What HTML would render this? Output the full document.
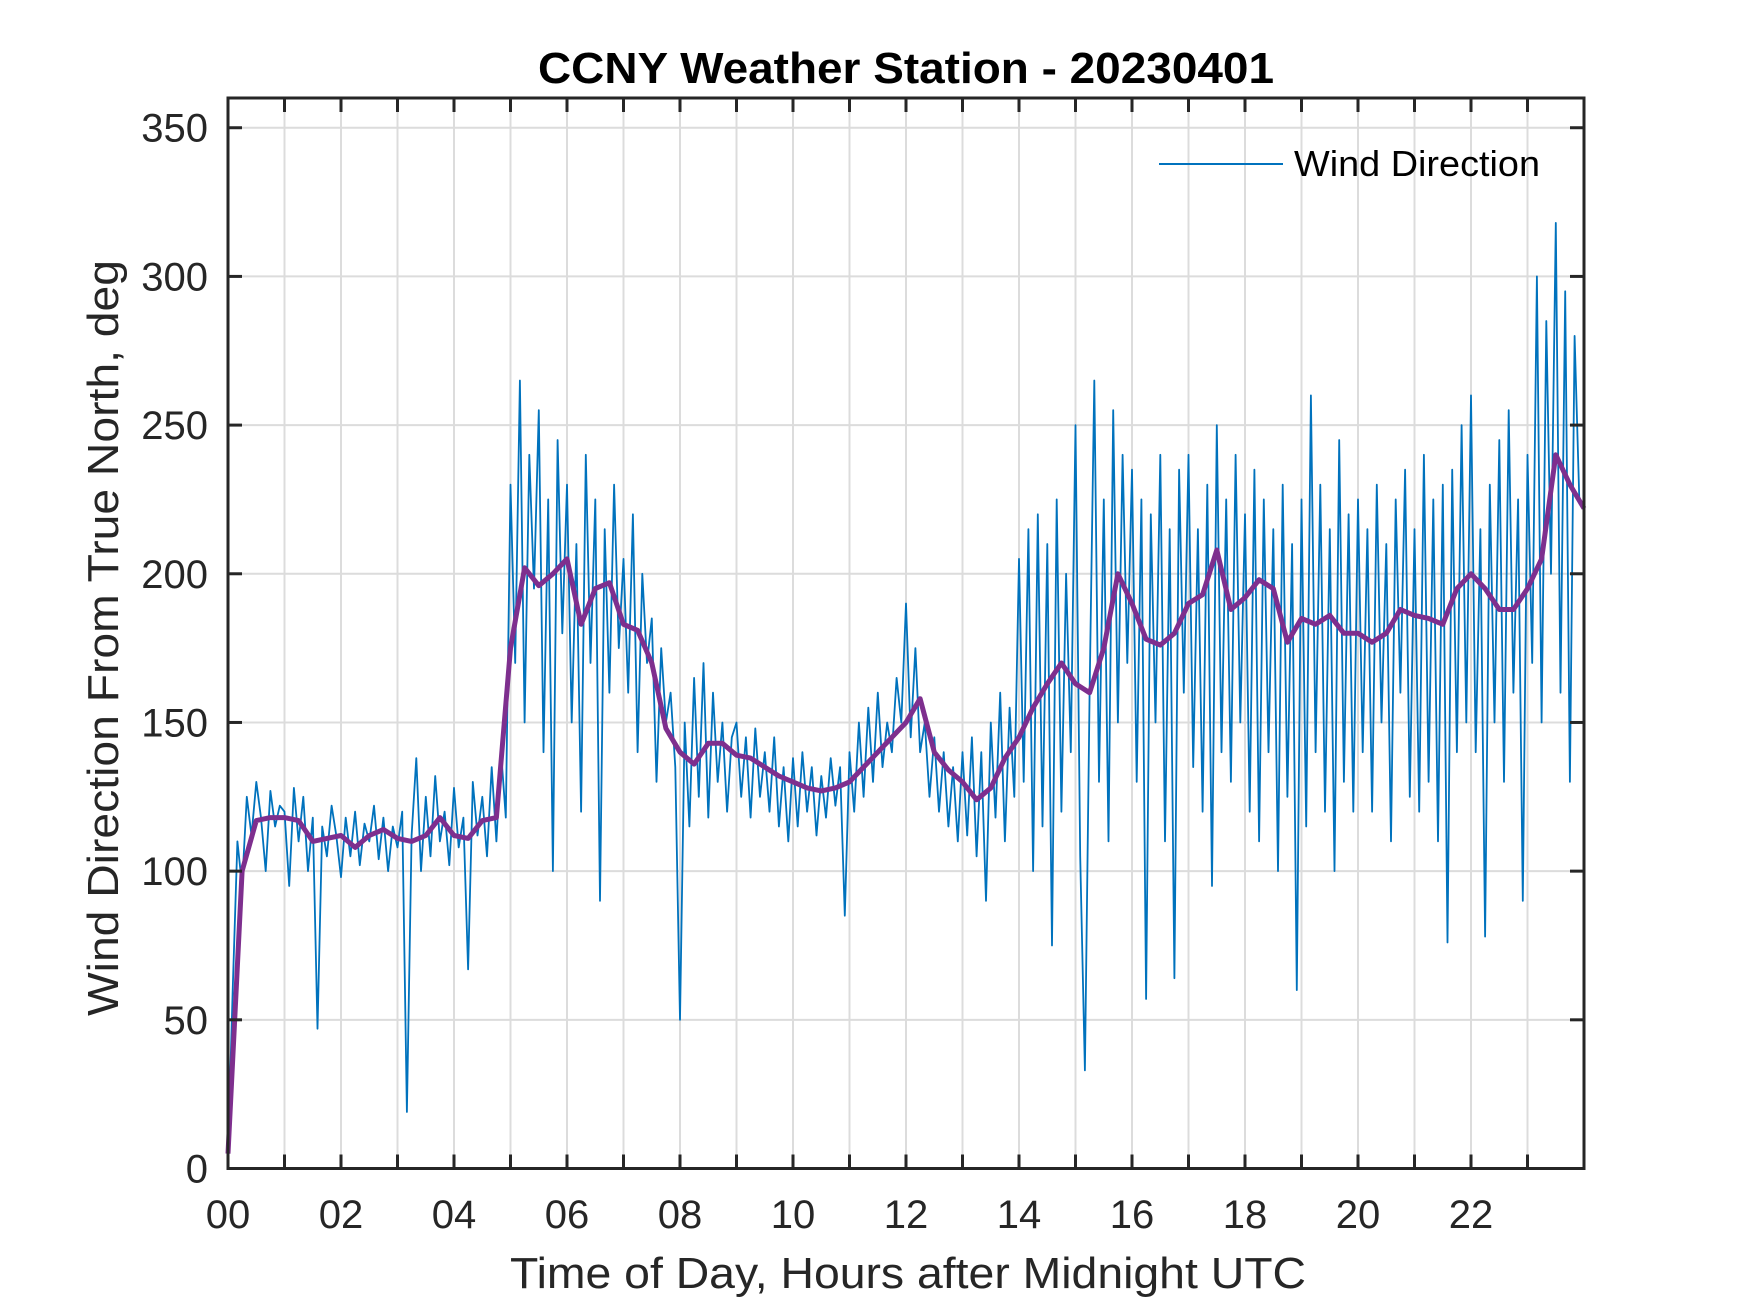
<!DOCTYPE html>
<html><head><meta charset="utf-8"><style>html,body{margin:0;padding:0;background:#fff}svg{display:block}</style></head>
<body>
<svg id="chart" width="1750" height="1313" xmlns="http://www.w3.org/2000/svg" font-family="Liberation Sans, Arial, sans-serif">
<rect width="1750" height="1313" fill="#fff"/>
<g id="grid"></g>
<g id="series"></g>
<g id="axes"></g>
<text x="906" y="83" text-anchor="middle" font-size="44" font-weight="bold" fill="#000" textLength="736" lengthAdjust="spacingAndGlyphs">CCNY Weather Station - 20230401</text>
<text x="908" y="1288" text-anchor="middle" font-size="44" fill="#262626" textLength="796" lengthAdjust="spacingAndGlyphs">Time of Day, Hours after Midnight UTC</text>
<text transform="translate(118,638) rotate(-90)" text-anchor="middle" font-size="44" fill="#262626" textLength="756" lengthAdjust="spacingAndGlyphs">Wind Direction From True North, deg</text>
<g>
<line x1="1159" y1="164" x2="1283" y2="164" stroke="#0072BD" stroke-width="2"/>
<text x="1294" y="176" font-size="36" fill="#000" textLength="246" lengthAdjust="spacingAndGlyphs">Wind Direction</text>
</g>
</svg>
<script>
const xTicks=[0,1,2,3,4,5,6,7,8,9,10,11,12,13,14,15,16,17,18,19,20,21,22,23];
const xTickLabels=["00","02","04","06","08","10","12","14","16","18","20","22"];
const yTicks=[0,50,100,150,200,250,300,350];
const rawWind=[
5,60,110,95,125,112,130,118,100,127,115,122,
120,95,128,110,125,100,118,47,115,105,122,112,
98,118,105,120,102,116,110,122,104,118,100,115,
108,120,19,112,138,100,125,105,132,110,120,102,
128,108,118,67,130,112,125,105,135,110,140,118,
230,170,265,150,240,195,255,140,225,100,245,180,
230,150,210,120,240,170,225,90,215,160,230,175,
205,160,220,140,200,170,185,130,175,150,160,135,
50,150,115,165,125,170,118,160,130,150,120,145,
150,125,145,118,148,125,140,120,145,115,135,110,
138,115,140,120,135,112,132,118,138,122,135,85,
140,120,150,125,155,130,160,135,150,140,165,150,
190,145,175,140,150,125,145,120,140,115,135,110,
140,112,145,105,140,90,150,118,160,110,155,125,
205,130,215,100,220,115,210,75,225,120,200,140,
250,105,33,160,265,130,225,110,255,150,240,170,
235,130,225,57,220,150,240,110,215,64,235,160,
240,135,215,120,230,95,250,140,225,130,240,150,
220,120,235,110,225,140,215,100,230,125,210,60,
225,115,260,140,230,120,215,100,245,130,220,120,
225,140,215,120,230,150,210,110,225,160,235,125,
215,120,240,130,225,110,230,76,235,140,250,150,
260,140,215,78,230,150,245,130,255,160,225,90,
240,170,300,150,285,200,318,160,295,130,280,225];
const smoothWind=[5,100,117,118,118,117,110,111,112,108,112,114,111,110,112,118,112,111,117,118,175,202,196,200,205,183,195,197,183,181,170,148,140,136,143,143,139,138,135,132,130,128,127,128,130,135,140,145,150,158,140,134,130,124,128,138,145,155,163,170,163,160,175,200,190,178,176,180,190,193,208,188,192,198,195,177,185,183,186,180,180,177,180,188,186,185,183,195,200,195,188,188,195,205,240,230,222];
const X0=228,X1=1584,Y0=1168.5,Y1=98,XMAX=24,YMAX=360;
const xs=h=>X0+(X1-X0)*h/XMAX;
const ys=v=>Y0-(Y0-Y1)*v/YMAX;
const NS="http://www.w3.org/2000/svg";
function mk(tag,attrs,parent){const e=document.createElementNS(NS,tag);for(const k in attrs)e.setAttribute(k,attrs[k]);parent.appendChild(e);return e;}
const grid=document.getElementById('grid'),axes=document.getElementById('axes'),series=document.getElementById('series');
xTicks.forEach(t=>{if(t===0)return;const x=xs(t);
const g=mk('line',{x1:x,y1:Y1,x2:x,y2:Y0,stroke:'#dcdcdc','stroke-width':2},grid);


mk('line',{x1:x,y1:Y0,x2:x,y2:Y0-14,stroke:'#262626','stroke-width':3},axes);
mk('line',{x1:x,y1:Y1,x2:x,y2:Y1+14,stroke:'#262626','stroke-width':3},axes);});
yTicks.forEach(t=>{const y=ys(t);
if(t>0){const g=mk('line',{x1:X0,y1:y,x2:X1,y2:y,stroke:'#dcdcdc','stroke-width':2},grid);

}
mk('line',{x1:X0,y1:y,x2:X0+14,y2:y,stroke:'#262626','stroke-width':3},axes);
mk('line',{x1:X1,y1:y,x2:X1-14,y2:y,stroke:'#262626','stroke-width':3},axes);
const l=mk('text',{x:208,y:y+14,'text-anchor':'end','font-size':40,fill:'#262626'},axes);l.textContent=t;

});
xTickLabels.forEach((s,i)=>{const l=mk('text',{x:xs(i*2),y:1228,'text-anchor':'middle','font-size':40,fill:'#262626'},axes);l.textContent=s;

});
mk('rect',{x:X0,y:Y1,width:X1-X0,height:Y0-Y1,fill:'none',stroke:'#262626','stroke-width':3},axes);
const n=rawWind.length;
let d=rawWind.map((v,i)=>(i?'L':'M')+xs(i*XMAX/n).toFixed(1)+','+ys(v).toFixed(1)).join('');
const raw=mk('path',{d:d,fill:'none',stroke:'#0072BD','stroke-width':1.8,'stroke-linejoin':'round'},series);


const m=smoothWind.length-1;
d=smoothWind.map((v,i)=>(i?'L':'M')+xs(i*XMAX/m).toFixed(1)+','+ys(v).toFixed(1)).join('');
const sm=mk('path',{d:d,fill:'none',stroke:'#7E2F8E','stroke-width':5,'stroke-linejoin':'round'},series);


</script>
</body></html>
